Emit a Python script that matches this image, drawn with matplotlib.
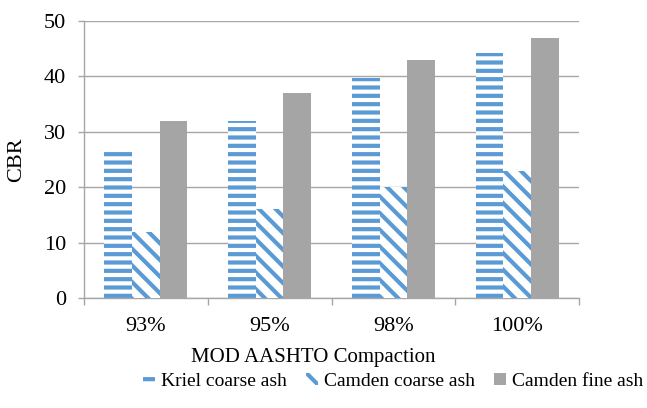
import matplotlib.pyplot as plt
import numpy as np

plt.rcParams['font.family'] = ['Liberation Serif', 'DejaVu Serif']
plt.rcParams['hatch.linewidth'] = 3.0

compaction = ["93%", "95%", "98%", "100%"]
kriel_coarse = [27, 32, 39.7, 44.3]
camden_coarse = [12, 16, 20, 23]
camden_fine = [32, 37, 43, 47]

blue = "#5B9BD5"
grey = "#A5A5A5"
axis_grey = "#A6A6A6"

fig = plt.figure(figsize=(6.47, 4.08), dpi=100)
ax = fig.add_axes([0.1298, 0.2696, 0.7652, 0.6789])

x = np.arange(len(compaction))
w = 0.224

ax.bar(x - w, kriel_coarse, w, color="white", edgecolor=blue, linewidth=0,
       hatch="--", label="Kriel coarse ash", zorder=3)
ax.bar(x, camden_coarse, w, color="white", edgecolor=blue, linewidth=0,
       hatch="\\\\", label="Camden coarse ash", zorder=3)
ax.bar(x + w, camden_fine, w, color=grey, linewidth=0,
       label="Camden fine ash", zorder=3)

ax.set_xlim(-0.5, len(compaction) - 0.5)
ax.set_ylim(0, 50)
ax.set_yticks(range(0, 51, 10))
ax.set_xticks(x)
ax.set_xticklabels(compaction)
ax.set_xticks(np.arange(-0.5, len(compaction), 1), minor=True)
ax.tick_params(axis="x", which="major", length=0, pad=14, labelsize=16)
ax.tick_params(axis="x", which="minor", length=5, color=axis_grey, width=1)
ax.tick_params(axis="y", length=4, color=axis_grey, width=1, pad=9, labelsize=16)

ax.yaxis.grid(True, color=axis_grey, linewidth=1, zorder=0)
for side in ["top", "right"]:
    ax.spines[side].set_visible(False)
for side in ["left", "bottom"]:
    ax.spines[side].set_color(axis_grey)
    ax.spines[side].set_linewidth(1)

ax.set_ylabel("CBR", fontsize=16)
ax.yaxis.set_label_coords(-0.117, 0.5)
ax.set_xlabel("MOD AASHTO Compaction", fontsize=15)
ax.xaxis.set_label_coords(0.463, -0.18)

ax.legend(loc="upper left", bbox_to_anchor=(0.12, -0.27), ncol=3, frameon=False,
          fontsize=14, handlelength=0.6, handleheight=0.6, handletextpad=0.3,
          columnspacing=1.0, borderaxespad=0, borderpad=0)

fig.savefig("out.png", dpi=100)
